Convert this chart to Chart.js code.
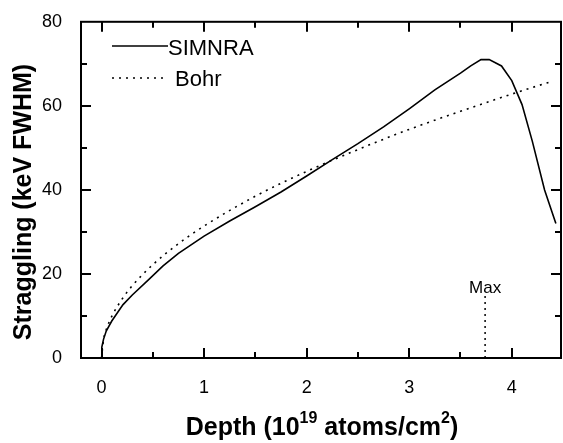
<!DOCTYPE html>
<html>
<head>
<meta charset="utf-8">
<script src="https://cdn.jsdelivr.net/npm/chart.js@4"></script>
<style>
  html, body { margin: 0; padding: 0; background: #fff; }
  #wrap { width: 563px; height: 443px; }
</style>
</head>
<body>
<div id="wrap"><canvas id="chart" width="563" height="443"></canvas></div>
<script>
// SIMNRA straggling vs depth
const simDepth = [0, 0.003, 0.02, 0.046, 0.1, 0.21, 0.3, 0.47, 0.6, 0.75, 1.0, 1.25, 1.5, 1.75, 2.0,
  2.25, 2.5, 2.75, 3.0, 3.25, 3.5, 3.6, 3.7, 3.78, 3.9, 4.0, 4.1, 4.2, 4.32, 4.43];
const simStraggling = [0, 2.6, 4.5, 6.4, 8.8, 12.7, 15, 18.9, 21.9, 24.9, 29, 32.6, 36, 39.5, 43.3,
  47.2, 51, 55, 59.3, 63.8, 67.8, 69.5, 71, 71, 69.5, 66, 60.3, 51.6, 40, 32];

// Bohr straggling
const bohrDepth = [0, 0.02, 0.05, 0.1, 0.2, 0.3, 0.5, 0.75, 1.0, 1.5, 2.0, 2.5, 3.0, 3.5, 4.0, 4.4];
const bohrStraggling = [0, 4.4, 7, 9.9, 14, 17.2, 22.2, 27.2, 31.4, 38.5, 44.4, 49.6, 54.4, 58.7, 62.8, 65.9];

// "Max" marker
const maxDepth = [3.74, 3.74];
const maxLevel = [0, 15];

const xTicks = [0, 1, 2, 3, 4];
const yTicks = [0, 20, 40, 60, 80];

const FONT = "'Liberation Sans', Arial, sans-serif";

function pairs(xs, ys) {
  return xs.map((x, i) => ({ x: x, y: ys[i] }));
}

// frame, inward ticks, legend, titles, label
const decorations = {
  id: "decorations",
  afterDraw(chart) {
    const ctx = chart.ctx;
    const a = chart.chartArea;
    const xs = chart.scales.x;
    const ys = chart.scales.y;
    ctx.save();
    ctx.strokeStyle = "#000";
    ctx.fillStyle = "#000";
    ctx.lineWidth = 2;
    ctx.strokeRect(a.left, a.top, a.right - a.left, a.bottom - a.top);

    ctx.beginPath();
    for (let v = 0; v <= 4.001; v += 0.5) {
      const px = Math.round(xs.getPixelForValue(v));
      const len = Math.abs(v - Math.round(v)) < 1e-6 ? 10 : 6;
      ctx.moveTo(px, a.bottom); ctx.lineTo(px, a.bottom - len);
      ctx.moveTo(px, a.top); ctx.lineTo(px, a.top + len);
    }
    for (let v = 10; v < 80; v += 10) {
      const py = Math.round(ys.getPixelForValue(v));
      const len = v % 20 === 0 ? 10 : 6;
      ctx.moveTo(a.left, py); ctx.lineTo(a.left + len, py);
      ctx.moveTo(a.right, py); ctx.lineTo(a.right - len, py);
    }
    ctx.stroke();

    // legend
    ctx.lineWidth = 1.5;
    ctx.beginPath();
    ctx.moveTo(112, 46); ctx.lineTo(168, 46);
    ctx.stroke();
    ctx.setLineDash([2, 5]);
    ctx.beginPath();
    ctx.moveTo(112, 78); ctx.lineTo(166, 78);
    ctx.stroke();
    ctx.setLineDash([]);
    ctx.font = "22px " + FONT;
    ctx.textBaseline = "alphabetic";
    ctx.textAlign = "left";
    ctx.fillText("SIMNRA", 168, 55);
    ctx.fillText("Bohr", 175, 86);

    // Max label
    ctx.font = "17px " + FONT;
    ctx.textAlign = "center";
    ctx.fillText("Max", xs.getPixelForValue(maxDepth[0]), 293);

    // y title
    ctx.font = "bold 25px " + FONT;
    ctx.save();
    ctx.translate(31, 202);
    ctx.rotate(-Math.PI / 2);
    ctx.textAlign = "center";
    ctx.fillText("Straggling (keV FWHM)", 0, 0);
    ctx.restore();

    // x title with superscripts
    const parts = [
      ["Depth (10", false], ["19", true], [" atoms/cm", false], ["2", true], [")", false]
    ];
    const big = "bold 25px " + FONT, small = "bold 16px " + FONT;
    let w = 0;
    parts.forEach(p => { ctx.font = p[1] ? small : big; w += ctx.measureText(p[0]).width; });
    let x = 322 - w / 2;
    ctx.textAlign = "left";
    parts.forEach(p => {
      ctx.font = p[1] ? small : big;
      ctx.fillText(p[0], x, p[1] ? 423 : 435);
      x += ctx.measureText(p[0]).width;
    });
    ctx.restore();
  }
};

new Chart(document.getElementById("chart"), {
  type: "line",
  data: {
    datasets: [
      {
        label: "SIMNRA",
        data: pairs(simDepth, simStraggling),
        borderColor: "#000",
        borderWidth: 1.6,
        pointRadius: 0,
        tension: 0,
        fill: false
      },
      {
        label: "Bohr",
        data: pairs(bohrDepth, bohrStraggling),
        borderColor: "#000",
        borderWidth: 1.6,
        borderDash: [2, 5],
        pointRadius: 0,
        cubicInterpolationMode: "monotone",
        fill: false
      },
      {
        label: "Max",
        data: pairs(maxDepth, maxLevel),
        borderColor: "#000",
        borderWidth: 1.5,
        borderDash: [2, 4],
        pointRadius: 0,
        fill: false
      }
    ]
  },
  options: {
    responsive: false,
    animation: false,
    layout: { padding: { top: 15, right: 2, left: 0, bottom: 0 } },
    plugins: { legend: { display: false }, tooltip: { enabled: false } },
    scales: {
      x: {
        type: "linear",
        min: -0.2,
        max: 4.48,
        grid: { display: false },
        border: { display: false },
        afterBuildTicks: s => { s.ticks = xTicks.map(v => ({ value: v })); },
        afterFit: s => { s.height = 85; },
        ticks: { color: "#000", font: { family: FONT, size: 18 }, padding: 11, maxRotation: 0 }
      },
      y: {
        min: 0,
        max: 80,
        grid: { display: false },
        border: { display: false },
        afterBuildTicks: s => { s.ticks = yTicks.map(v => ({ value: v })); },
        afterFit: s => { s.width = 81; },
        ticks: { color: "#000", font: { family: FONT, size: 18 }, padding: 11 }
      }
    }
  },
  plugins: [decorations]
});
</script>
</body>
</html>
